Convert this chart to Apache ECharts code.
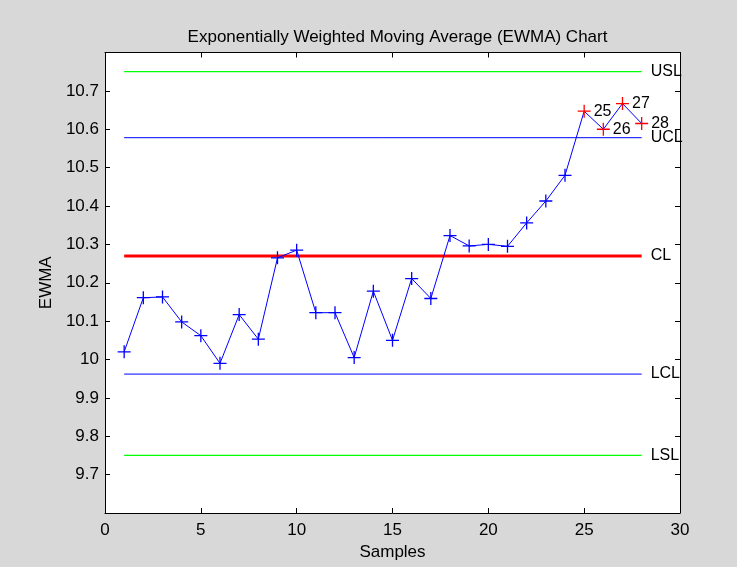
<!DOCTYPE html>
<html>
<head>
<meta charset="utf-8">
<script src="https://cdn.jsdelivr.net/npm/echarts@6/dist/echarts.min.js"></script>
<style>
  html, body { margin: 0; padding: 0; background: #d8d8d8; }
  #chart { width: 737px; height: 567px; }
</style>
</head>
<body>
<div id="chart"></div>
<script>
// Sample numbers and their EWMA statistic
const samples = [1, 2, 3, 4, 5, 6, 7, 8, 9, 10, 11, 12, 13, 14, 15, 16, 17, 18, 19, 20, 21, 22, 23, 24, 25, 26, 27, 28];
const ewma = [10.020, 10.161, 10.163, 10.098, 10.062, 9.990, 10.117, 10.053, 10.265, 10.285,
              10.122, 10.122, 10.005, 10.178, 10.050, 10.211, 10.159, 10.323, 10.296, 10.300,
              10.295, 10.356, 10.413, 10.480, 10.647, 10.600, 10.667, 10.615];

// Control and specification limits
const limitNames = ['USL', 'UCL', 'CL', 'LCL', 'LSL'];
const limitValues = [10.75, 10.578, 10.27, 9.962, 9.75];
const limitColors = ['#00ff00', '#0000ff', '#ff0000', '#0000ff', '#00ff00'];
const limitWidths = [1.2, 1, 3, 1, 1.2];

// Axis ranges and ticks
const xTicks = [0, 5, 10, 15, 20, 25, 30];
const yRange = [9.6, 10.8];

const FONT = 'Liberation Sans, Arial, Helvetica, sans-serif';
const ucl = limitValues[1], lcl = limitValues[3];

const linePts = samples.map((s, i) => [s, ewma[i]]);
const inPts = linePts.filter(p => p[1] <= ucl && p[1] >= lcl);
const outPts = linePts.filter(p => p[1] > ucl || p[1] < lcl);

// plus-sign marker
const PLUS = 'path://M-6,-0.6H6V0.6H-6Z M-0.6,-6H0.6V6H-0.6Z';

const limitSeries = limitNames.map((name, i) => ({
  name: name,
  type: 'line',
  data: [[samples[0], limitValues[i]], [samples[samples.length - 1], limitValues[i]]],
  symbol: 'none',
  silent: true,
  lineStyle: { color: limitColors[i], width: limitWidths[i] },
  endLabel: {
    show: true,
    formatter: name,
    distance: 9,
    color: '#000000',
    fontFamily: FONT,
    fontSize: 16
  },
  z: limitNames[i] === 'CL' ? 3 : 2
}));

const chart = echarts.init(document.getElementById('chart'), null, { renderer: 'canvas' });

const axisCommon = {
  type: 'value',
  axisLine: { show: true, onZero: false, lineStyle: { color: '#000', width: 1 } },
  axisTick: { show: true, inside: true, length: 5, lineStyle: { color: '#000' } },
  splitLine: { show: false }
};

chart.setOption({
  animation: false,
  backgroundColor: '#d8d8d8',
  title: {
    text: 'Exponentially Weighted Moving Average (EWMA) Chart',
    left: 392.5,
    top: 24,
    textAlign: 'center',
    textStyle: { fontFamily: FONT, fontSize: 17, fontWeight: 'normal', color: '#000' }
  },
  grid: {
    left: 105, right: 57, top: 52.5, bottom: 54,
    show: true, backgroundColor: '#ffffff', borderWidth: 0
  },
  xAxis: [
    Object.assign({}, axisCommon, {
      position: 'bottom',
      min: xTicks[0], max: xTicks[xTicks.length - 1], interval: 5,
      name: 'Samples', nameLocation: 'middle', nameGap: 30,
      nameTextStyle: { fontFamily: FONT, fontSize: 17, color: '#000' },
      axisLabel: { fontFamily: FONT, fontSize: 17, color: '#000', margin: 9 }
    }),
    Object.assign({}, axisCommon, {
      position: 'top',
      min: xTicks[0], max: xTicks[xTicks.length - 1], interval: 5,
      axisLabel: { show: false }
    })
  ],
  yAxis: [
    Object.assign({}, axisCommon, {
      position: 'left',
      min: yRange[0], max: yRange[1], interval: 0.1,
      name: 'EWMA', nameLocation: 'middle', nameGap: 48,
      nameTextStyle: { fontFamily: FONT, fontSize: 17, color: '#000' },
      axisLabel: {
        fontFamily: FONT, fontSize: 17, color: '#000', margin: 6,
        formatter: v => {
          const r = Math.round(v * 10) / 10;
          if (Math.abs(r - yRange[0]) < 1e-6 || Math.abs(r - yRange[1]) < 1e-6) return '';
          return String(r);
        }
      }
    }),
    Object.assign({}, axisCommon, {
      position: 'right',
      min: yRange[0], max: yRange[1], interval: 0.1,
      axisLabel: { show: false }
    })
  ],
  series: limitSeries.concat([
    {
      name: 'EWMA',
      type: 'line',
      data: linePts,
      symbol: 'none',
      lineStyle: { color: '#0000ff', width: 1 },
      z: 4
    },
    {
      name: 'in control',
      type: 'scatter',
      data: inPts,
      symbol: PLUS,
      symbolSize: 13,
      itemStyle: { color: '#0000ff', opacity: 1 },
      z: 5
    },
    {
      name: 'out of control',
      type: 'scatter',
      data: outPts,
      symbol: PLUS,
      symbolSize: 13,
      itemStyle: { color: '#ff0000', opacity: 1 },
      label: {
        show: true,
        position: 'right',
        distance: 3,
        formatter: p => String(p.value[0]),
        color: '#000000',
        opacity: 1,
        fontFamily: FONT,
        fontSize: 16
      },
      z: 6
    }
  ])
});
</script>
</body>
</html>
